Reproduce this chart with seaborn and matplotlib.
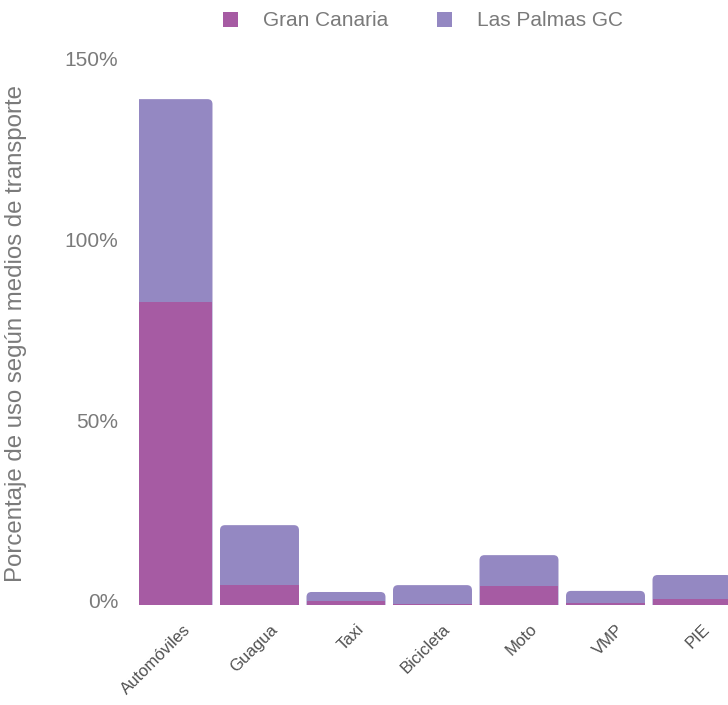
import numpy as np
import pandas as pd
import seaborn as sns
import matplotlib
matplotlib.use("Agg")
import matplotlib.pyplot as plt
import matplotlib.transforms as mtransforms
from matplotlib.patches import FancyBboxPatch, Patch

# Share of trips by transport mode (%)
categories = ["Automóviles", "Guagua", "Taxi", "Bicicleta", "Moto", "VMP", "PIE"]
gran_canaria = [83.9, 5.5, 1.1, 0.3, 5.3, 0.6, 1.7]
las_palmas_gc = [56.1, 16.6, 2.5, 5.2, 8.5, 3.3, 6.6]
series_names = ["Gran Canaria", "Las Palmas GC"]
y_ticks = [0, 50, 100, 150]

GC_COLOR = "#A65BA3"
LP_COLOR = "#9488C2"
TEXT_GRAY = "#7a7a7a"

sns.set_theme(style="white")
plt.rcParams["font.family"] = ["Liberation Sans", "DejaVu Sans"]

df = pd.DataFrame({
    "modo": categories,
    "gc": gran_canaria,
    "lp": las_palmas_gc,
})
df["total"] = df["gc"] + df["lp"]

W, H, DPI = 728, 705, 100
fig = plt.figure(figsize=(W / DPI, H / DPI), dpi=DPI)
ax_left, ax_bottom_px, ax_top_px = 139, 605, 63
ax = fig.add_axes([ax_left / W, 1 - ax_bottom_px / H, 1 - ax_left / W,
                   (ax_bottom_px - ax_top_px) / H])

# Stacked bars: full height (Las Palmas GC on top), then Gran Canaria base
sns.barplot(data=df, x="modo", y="total", color=LP_COLOR, saturation=1,
            width=0.913, ax=ax, zorder=2)
sns.barplot(data=df, x="modo", y="gc", color=GC_COLOR, saturation=1,
            width=0.913, ax=ax, zorder=3)

xlim = (-0.393, (W - 173) / 86.5)
ylim = (0, 150)
ax.set_xlim(*xlim)
ax.set_ylim(*ylim)

# Round the top corners of the stacked columns
n = len(categories)
px_per_x = (W - ax_left) / (xlim[1] - xlim[0])
px_per_y = (ax_bottom_px - ax_top_px) / (ylim[1] - ylim[0])
aspect = px_per_x / px_per_y
radius_px = 5
top_bars = list(ax.patches[:n])
for p in top_bars:
    x0, w, h = p.get_x(), p.get_width(), p.get_height()
    ext = 10
    fb = FancyBboxPatch((x0, -ext), w, h + ext,
                        boxstyle=f"round,pad=0,rounding_size={radius_px / px_per_x}",
                        mutation_aspect=aspect, facecolor=LP_COLOR,
                        edgecolor="none", zorder=2, clip_on=True)
    ax.add_patch(fb)
    p.remove()
for p in ax.patches:
    if not isinstance(p, FancyBboxPatch):
        p.set_edgecolor("none")

sns.despine(ax=ax, left=True, bottom=True, top=True, right=True)
ax.grid(False)
ax.set_facecolor("white")

ax.set_yticks(y_ticks)
ax.set_yticklabels([f"{v}%" for v in y_ticks])
ax.tick_params(axis="y", length=0, pad=15, labelsize=15, labelcolor=TEXT_GRAY)
ax.tick_params(axis="x", length=0, pad=12, labelsize=12, labelcolor="#505050")
shift_x = mtransforms.ScaledTranslation(10 / DPI, 0, fig.dpi_scale_trans)
for lbl in ax.get_xticklabels():
    lbl.set_rotation(45)
    lbl.set_ha("right")
    lbl.set_rotation_mode("anchor")
    lbl.set_transform(lbl.get_transform() + shift_x)
shift_y = mtransforms.ScaledTranslation(0, 4 / DPI, fig.dpi_scale_trans)
for lbl in ax.get_yticklabels():
    lbl.set_transform(lbl.get_transform() + shift_y)

ax.set_xlabel("")
ax.set_ylabel("Porcentaje de uso según medios de transporte", fontsize=17.3,
              color=TEXT_GRAY)
ax.yaxis.set_label_coords(16 / W, 1 - 334 / H, transform=fig.transFigure)
ax.yaxis.label.set_va("center")

handles = [Patch(facecolor=GC_COLOR, edgecolor="none"),
           Patch(facecolor=LP_COLOR, edgecolor="none")]
leg = fig.legend(handles, series_names, loc="center",
                 bbox_to_anchor=(423 / W, 1 - 21 / H), ncol=2, frameon=False,
                 fontsize=15, handlelength=0.75, handleheight=0.75,
                 handletextpad=1.2, columnspacing=2.3)
for t in leg.get_texts():
    t.set_color(TEXT_GRAY)

fig.savefig("out.png", dpi=DPI, facecolor="white")
